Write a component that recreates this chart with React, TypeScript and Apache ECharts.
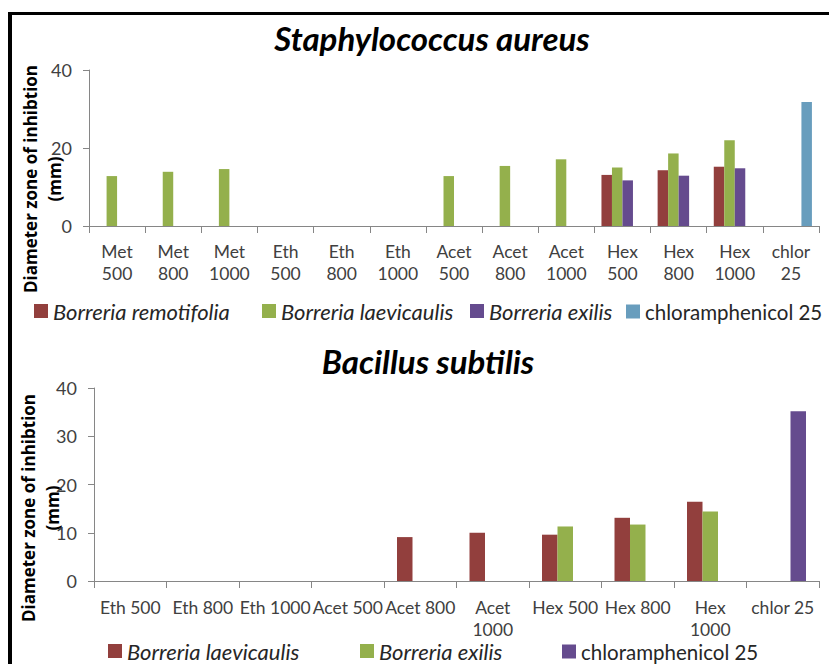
import React, { useEffect, useRef } from "react";
import * as echarts from "echarts";

// ---------- Data ----------
const topCategories = [
  "Met\n500", "Met\n800", "Met\n1000",
  "Eth\n500", "Eth\n800", "Eth\n1000",
  "Acet\n500", "Acet\n800", "Acet\n1000",
  "Hex\n500", "Hex\n800", "Hex\n1000",
  "chlor\n25",
];
const topRemotifolia = [null, null, null, null, null, null, null, null, null, 13.1, 14.3, 15.2, null];
const topLaevicaulis = [12.8, 13.9, 14.6, null, null, null, 12.8, 15.4, 17.1, 15.0, 18.6, 22.0, null];
const topExilis = [null, null, null, null, null, null, null, null, null, 11.7, 12.9, 14.8, null];
const topChlor = [null, null, null, null, null, null, null, null, null, null, null, null, 31.8];

const bottomCategories = [
  "Eth 500", "Eth 800", "Eth 1000", "Acet 500", "Acet 800",
  "Acet\n1000", "Hex 500", "Hex 800", "Hex\n1000", "chlor 25",
];
const bottomLaevicaulis = [null, null, null, null, 9.1, 10.0, 9.6, 13.1, 16.4, null];
const bottomExilis = [null, null, null, null, null, null, 11.3, 11.7, 14.4, null];
const bottomChlor = [null, null, null, null, null, null, null, null, null, 35.2];

const topTitle = "Staphylococcus aureus";
const bottomTitle = "Bacillus subtilis";
const yName1 = "Diameter zone of inhibtion";
const yName2 = "(mm)";

// ---------- Styles ----------
const RED = "#923F3D";
const GREEN = "#94B04C";
const PURPLE = "#654B8E";
const BLUE = "#689DBD";
const AXIS = "#868686";
const LABEL = "#404040";
const FONT = "Lato, 'Liberation Sans', sans-serif";

function legendItem(name: string, italic: boolean, left: number, top: number) {
  return {
    data: [{ name, textStyle: { fontStyle: italic ? "italic" : "normal" } }],
    left,
    top,
    padding: 0,
    icon: "rect",
    itemWidth: 14,
    itemHeight: 14,
    selectedMode: false,
    textStyle: { fontFamily: FONT, fontSize: italic ? 22 : 20.5, color: "#262626" },
  };
}

function titleGraphic(text: string, x: number, y: number) {
  return {
    type: "text",
    x,
    y,
    style: {
      text,
      font: `italic bold 33px ${FONT}`,
      fill: "#000",
      align: "center",
      verticalAlign: "middle",
    },
  };
}

function yNameGraphics(x1: number, x2: number, y: number) {
  const font = "bold 17px 'Open Sans', sans-serif";
  return [
    {
      type: "text",
      x: x1,
      y,
      rotation: Math.PI / 2,
      style: { text: yName1, font, fill: "#000", align: "center", verticalAlign: "middle" },
    },
    {
      type: "text",
      x: x2,
      y,
      rotation: Math.PI / 2,
      style: { text: yName2, font, fill: "#000", align: "center", verticalAlign: "middle" },
    },
  ];
}

function baseAxes(categories: string[], interval: number, labelMargin: number) {
  return {
    xAxis: {
      type: "category",
      data: categories,
      boundaryGap: true,
      axisLine: { show: true, lineStyle: { color: AXIS, width: 1 } },
      axisTick: { show: true, interval: 0, length: 7, lineStyle: { color: AXIS } },
      axisLabel: {
        interval: 0,
        hideOverlap: false,
        margin: labelMargin,
        fontFamily: FONT,
        fontSize: 17.5,
        lineHeight: 22,
        color: LABEL,
      },
      splitLine: { show: false },
    },
    yAxis: {
      type: "value",
      min: 0,
      max: 40,
      interval,
      axisLine: { show: true, lineStyle: { color: AXIS, width: 1 } },
      axisTick: { show: true, length: 6, lineStyle: { color: AXIS } },
      axisLabel: { margin: 17, fontFamily: FONT, fontSize: 18, color: LABEL },
      splitLine: { show: false },
    },
  };
}

const topOption = {
  animation: false,
  grid: { left: 89, right: 10, top: 70, height: 156, containLabel: false },
  ...baseAxes(topCategories, 20, 14),
  legend: [
    legendItem("Borreria remotifolia", true, 34, 300),
    legendItem("Borreria laevicaulis", true, 262, 300),
    legendItem("Borreria exilis", true, 470, 300),
    legendItem("chloramphenicol 25", false, 626, 301),
  ],
  graphic: [titleGraphic(topTitle, 432, 38), ...yNameGraphics(30, 54, 179)],
  series: [
    { name: "Borreria remotifolia", type: "bar", data: topRemotifolia, barWidth: 10.5, barGap: "0%", itemStyle: { color: RED } },
    { name: "Borreria laevicaulis", type: "bar", data: topLaevicaulis, barWidth: 10.5, barGap: "0%", itemStyle: { color: GREEN } },
    { name: "Borreria exilis", type: "bar", data: topExilis, barWidth: 10.5, barGap: "0%", itemStyle: { color: PURPLE } },
    { name: "chloramphenicol 25", type: "bar", data: topChlor, barWidth: 10.5, barGap: "0%", itemStyle: { color: BLUE } },
  ],
};

const bottomOption = {
  animation: false,
  grid: { left: 94, right: 10, top: 58, height: 193, containLabel: false },
  ...baseAxes(bottomCategories, 10, 15),
  legend: [
    legendItem("Borreria laevicaulis", true, 108, 310),
    legendItem("Borreria exilis", true, 360, 310),
    legendItem("chloramphenicol 25", false, 562, 311),
  ],
  graphic: [titleGraphic(bottomTitle, 428, 31), ...yNameGraphics(28, 52, 178)],
  series: [
    { name: "Borreria laevicaulis", type: "bar", data: bottomLaevicaulis, barWidth: 15.5, barGap: "0%", itemStyle: { color: RED } },
    { name: "Borreria exilis", type: "bar", data: bottomExilis, barWidth: 15.5, barGap: "0%", itemStyle: { color: GREEN } },
    { name: "chloramphenicol 25", type: "bar", data: bottomChlor, barWidth: 15.5, barGap: "0%", itemStyle: { color: PURPLE } },
  ],
};

export default function App() {
  const topRef = useRef<HTMLDivElement>(null);
  const botRef = useRef<HTMLDivElement>(null);

  useEffect(() => {
    const c1 = echarts.init(topRef.current!, undefined, { renderer: "svg" });
    const c2 = echarts.init(botRef.current!, undefined, { renderer: "svg" });
    c1.setOption(topOption as any);
    c2.setOption(bottomOption as any);
    return () => {
      c1.dispose();
      c2.dispose();
    };
  }, []);

  return (
    <div
      style={{
        position: "fixed",
        left: 0,
        top: 0,
        width: 829,
        height: 664,
        overflow: "hidden",
        background: "#fff",
      }}
    >
      <div
        style={{
          position: "absolute",
          left: 8,
          top: 12,
          width: 900,
          height: 800,
          borderTop: "3px solid #000",
          borderLeft: "4px solid #000",
        }}
      />
      <div ref={topRef} style={{ position: "absolute", left: 0, top: 0, width: 829, height: 330 }} />
      <div ref={botRef} style={{ position: "absolute", left: 0, top: 330, width: 829, height: 334 }} />
    </div>
  );
}
